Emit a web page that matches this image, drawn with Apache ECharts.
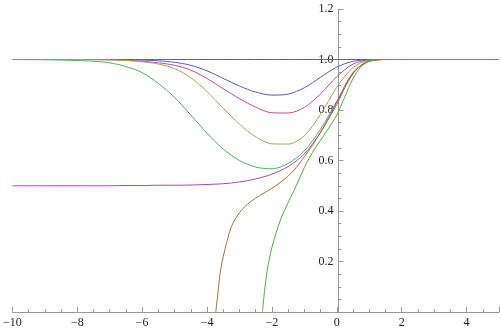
<!DOCTYPE html>
<html>
<head>
<meta charset="utf-8">
<script src="https://cdn.jsdelivr.net/npm/echarts@6/dist/echarts.min.js"></script>
<style>
  html, body { margin: 0; padding: 0; background: #fff; }
  #chart { width: 501px; height: 331px; }
</style>
</head>
<body>
<div id="chart"></div>
<script>
// shared x samples for the curves that start at 1 or 0.5 on the left
const xs = [-10, -9, -8, -7.5, -7, -6.5, -6, -5.5, -5, -4.5, -4, -3.5, -3, -2.5, -2, -1.5, -1, -0.5, 0, 0.5, 1, 1.5, 2, 5]

const flatX = [-10, 5]
const flatY = [1, 1]

const dip1 = [1, 1, 1, 1, 1, 0.999, 0.998, 0.995, 0.989, 0.977, 0.955, 0.925, 0.895, 0.871, 0.859, 0.863, 0.888, 0.930, 0.970, 0.993, 0.999, 1, 1, 1]
const dip2 = [1, 1, 1, 1, 0.999, 0.997, 0.993, 0.987, 0.977, 0.958, 0.925, 0.884, 0.845, 0.811, 0.789, 0.788, 0.810, 0.864, 0.932, 0.982, 0.998, 1, 1, 1]
const dip3 = [1, 1, 1, 0.999, 0.998, 0.996, 0.991, 0.982, 0.964, 0.928, 0.873, 0.807, 0.744, 0.694, 0.666, 0.665, 0.698, 0.783, 0.890, 0.968, 0.997, 1, 1, 1]
const dip4 = [1, 0.999, 0.996, 0.993, 0.987, 0.972, 0.948, 0.905, 0.850, 0.780, 0.708, 0.645, 0.600, 0.574, 0.567, 0.588, 0.638, 0.724, 0.835, 0.948, 0.994, 1, 1, 1]
const half = [0.5, 0.5, 0.5, 0.5, 0.5, 0.501, 0.501, 0.502, 0.502, 0.503, 0.505, 0.508, 0.515, 0.527, 0.546, 0.576, 0.626, 0.712, 0.830, 0.947, 0.994, 1, 1, 1]

const brownX = [-3.73, -3.68, -3.6, -3.5, -3.25, -3.0, -2.75, -2.5, -2.25, -2.0, -1.75, -1.5, -1.25, -1.0, -0.75, -0.5, -0.25, 0, 0.25, 0.5, 0.75, 1, 1.25, 1.5, 2, 5]
const brownY = [0, 0.057, 0.15, 0.22, 0.338, 0.393, 0.427, 0.451, 0.471, 0.490, 0.512, 0.538, 0.572, 0.615, 0.660, 0.712, 0.765, 0.822, 0.888, 0.943, 0.978, 0.993, 0.998, 1, 1, 1]

const riseX = [-2.29, -2.25, -2.15, -2.0, -1.75, -1.5, -1.25, -1.0, -0.75, -0.5, -0.25, 0, 0.25, 0.5, 0.75, 1, 1.25, 1.5, 2, 5]
const riseY = [0, 0.056, 0.16, 0.255, 0.36, 0.433, 0.50, 0.572, 0.632, 0.680, 0.728, 0.780, 0.853, 0.925, 0.972, 0.993, 0.999, 1, 1, 1]

const xTicks = [-10, -8, -6, -4, -2, 0, 2, 4]
const yTicks = [0.2, 0.4, 0.6, 0.8, 1.0, 1.2]

const colors = ['#5c5cb5', '#5c5cb5', '#b5508f', '#b0a058', '#52ad68', '#9c4cb3', '#a8703f', '#55a845']

const zip = (a, b) => a.map((v, i) => [v, b[i]])
const curves = [
  zip(flatX, flatY),
  zip(xs, dip1),
  zip(xs, dip2),
  zip(xs, dip3),
  zip(xs, dip4),
  zip(xs, half),
  zip(brownX, brownY),
  zip(riseX, riseY),
]

const labelFont = { color: '#222', fontFamily: 'Liberation Serif', fontSize: 12 }
const minus = v => (v < 0 ? '\u2212' + (-v) : String(v))

// grid: left 10, width 489 over [-10, 5] -> x = 0 sits 326px right of the left edge
const gridLeft = 10, gridRight = 2
const zeroOffset = (501 - gridLeft - gridRight) * 10 / 15

const c = echarts.init(document.getElementById('chart'))
c.setOption({
  animation: false,
  grid: { left: gridLeft, right: gridRight, top: 9, bottom: 19 },
  xAxis: {
    type: 'value', min: -10, max: 5, interval: 2,
    axisLine: { onZero: true, lineStyle: { color: '#999', width: 1 } },
    axisTick: { inside: true, length: 5, lineStyle: { color: '#999' } },
    minorTick: { show: true, splitNumber: 4, length: 3, lineStyle: { color: '#999' } },
    axisLabel: { ...labelFont, margin: 5, showMaxLabel: false, formatter: v => (xTicks.includes(v) ? minus(v) : '') },
    splitLine: { show: false },
  },
  yAxis: {
    type: 'value', min: 0, max: 1.2, interval: 0.2, offset: -zeroOffset,
    axisLine: { onZero: false, lineStyle: { color: '#999', width: 1 } },
    axisTick: { inside: true, length: 5, lineStyle: { color: '#999' } },
    minorTick: { show: true, splitNumber: 4, length: 3, lineStyle: { color: '#999' } },
    axisLabel: { ...labelFont, margin: 5, formatter: v => (yTicks.some(t => Math.abs(t - v) < 1e-6) ? v.toFixed(1) : '') },
    splitLine: { show: false },
  },
  series: curves.map((d, i) => ({
    type: 'line', data: d, showSymbol: false, smooth: 0.3,
    lineStyle: { color: colors[i], width: 1 }, itemStyle: { color: colors[i] },
    silent: true, z: 2 + i,
  })),
})
</script>
</body>
</html>
